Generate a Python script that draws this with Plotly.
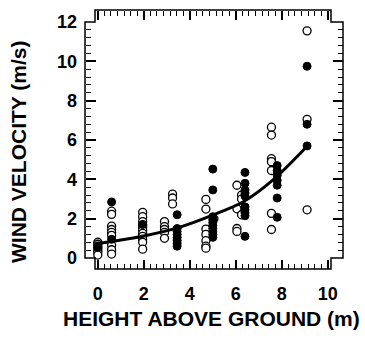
import plotly.graph_objects as go

# ---------------- data ----------------
open_x = ([0.0] * 7 +
          [0.6] * 9 +
          [1.95] * 11 +
          [2.9] * 5 + [3.25] * 3 +
          [4.7] * 7 + [5.05] +
          [6.05] * 4 + [6.25] * 3 +
          [7.55] * 7 +
          [9.1] * 3)
open_y = ([0.8, 0.7, 0.6, 0.5, 0.4, 0.3, 0.15] +
          [2.38, 2.22, 1.62, 1.45, 1.3, 1.15, 0.65, 0.42, 0.2] +
          [2.32, 2.1, 1.85, 1.68, 1.55, 1.4, 1.25, 1.1, 0.95, 0.8, 0.45] +
          [1.85, 1.6, 1.45, 1.3, 1.0] + [3.25, 3.05, 2.75] +
          [2.98, 2.49, 1.47, 1.2, 0.88, 0.6, 0.5] + [2.0] +
          [3.7, 2.5, 1.5, 1.35] + [3.2, 3.0, 2.2] +
          [6.65, 6.25, 5.05, 4.9, 4.45, 2.27, 1.45] +
          [11.55, 7.05, 2.45])

filled_x = ([0.0] +
            [0.6] * 2 +
            [1.95] +
            [3.45] * 8 +
            [5.0] * 10 +
            [6.4] * 10 +
            [7.8] * 7 +
            [9.1] * 3)
filled_y = ([0.55] +
            [2.85, 0.95] +
            [1.7] +
            [2.2, 1.5, 1.35, 1.2, 1.05, 0.9, 0.75, 0.6] +
            [4.52, 3.46, 2.1, 1.95, 1.8, 1.65, 1.5, 1.35, 1.2, 1.05] +
            [4.35, 3.8, 3.45, 3.3, 3.15, 2.6, 2.45, 2.3, 2.15, 1.1] +
            [4.7, 4.45, 4.2, 3.95, 3.7, 3.05, 2.07] +
            [9.75, 6.8, 5.7])

# fitted curve
fit_x = [-0.1, 0.7, 2.0, 3.57, 5.02, 6.33, 7.62, 9.08]
fit_y = [0.72, 0.86, 1.12, 1.57, 2.19, 2.86, 3.97, 5.66]

x_ticks = [0, 2, 4, 6, 8, 10]
y_ticks = [0, 2, 4, 6, 8, 10, 12]
x_title = "HEIGHT ABOVE GROUND (m)"
y_title = "WIND VELOCITY (m/s)"

# ---------------- layout geometry ----------------
W, H = 365, 341
def px(v):
    return v / W
def py(v):
    return 1 - v / H

X_RANGE = [-0.122, 10.14]
Y_RANGE = [0, 12]
xdom = [px(95), px(331)]      # horizontal extent of x axes
ydom = [py(258), py(22)]      # vertical extent of y axes
left_pos, right_pos = px(85), px(343)
bottom_pos, top_pos = py(269), py(10)

FONT = "Liberation Sans"
tickfont = dict(family=FONT, size=18, color="black", weight="bold")

common_x = dict(domain=xdom, range=X_RANGE, tickvals=x_ticks, ticks="inside",
                ticklen=9, tickwidth=1.5, tickcolor="black", showline=False,
                showgrid=False, zeroline=False, automargin=False,
                minor=dict(tick0=0, dtick=2 / 7, ticks="inside", ticklen=5,
                           tickwidth=1.2, tickcolor="black", showgrid=False))
common_y = dict(domain=ydom, range=Y_RANGE, tickvals=y_ticks, ticks="inside",
                ticklen=10, tickwidth=1.5, tickcolor="black", showline=False,
                showgrid=False, zeroline=False, automargin=False,
                minor=dict(tick0=0, dtick=0.4, ticks="inside", ticklen=5,
                           tickwidth=1.2, tickcolor="black", showgrid=False))

fig = go.Figure()
fig.add_trace(go.Scatter(
    x=open_x, y=open_y, mode="markers", cliponaxis=False,
    marker=dict(symbol="circle", size=8, color="white",
                line=dict(color="black", width=1.3)),
    showlegend=False))
fig.add_trace(go.Scatter(
    x=filled_x, y=filled_y, mode="markers", cliponaxis=False,
    marker=dict(symbol="circle", size=8, color="black",
                line=dict(color="black", width=1)),
    showlegend=False))
fig.add_trace(go.Scatter(
    x=fit_x, y=fit_y, mode="lines", cliponaxis=False,
    line=dict(color="black", width=3, shape="spline", smoothing=0.8),
    showlegend=False))
# empty traces so the top / right tick axes get their own subplots
fig.add_trace(go.Scatter(x=[], y=[], xaxis="x2", yaxis="y", showlegend=False))
fig.add_trace(go.Scatter(x=[], y=[], xaxis="x", yaxis="y2", showlegend=False))

fig.update_layout(
    width=W, height=H,
    margin=dict(l=0, r=0, t=0, b=0, autoexpand=False),
    paper_bgcolor="white", plot_bgcolor="rgba(0,0,0,0)",
    xaxis=dict(**common_x, anchor="free", position=bottom_pos, side="bottom",
               tickfont=tickfont, ticklabelstandoff=12),
    xaxis2=dict(**common_x, anchor="free", position=top_pos, side="top",
                overlaying="x", showticklabels=False),
    yaxis=dict(**common_y, anchor="free", position=left_pos, side="left",
               tickfont=tickfont, ticklabelstandoff=8),
    yaxis2=dict(**common_y, anchor="free", position=right_pos, side="right",
                overlaying="y", showticklabels=False),
)

# notched frame outline joining the offset axes
pts = [(left_pos, ydom[1]), (xdom[0], ydom[1]), (xdom[0], top_pos),
       (xdom[1], top_pos), (xdom[1], ydom[1]), (right_pos, ydom[1]),
       (right_pos, ydom[0]), (xdom[1], ydom[0]), (xdom[1], bottom_pos),
       (xdom[0], bottom_pos), (xdom[0], ydom[0]), (left_pos, ydom[0])]
path = "M " + " L ".join(f"{a},{b}" for a, b in pts) + " Z"
fig.add_shape(type="path", path=path, xref="paper", yref="paper",
              line=dict(color="black", width=1.5), layer="above")

fig.add_annotation(text=y_title, x=px(18), y=py(152), xref="paper",
                   yref="paper", textangle=-90, showarrow=False,
                   xanchor="center", yanchor="middle",
                   font=dict(family=FONT, size=21, color="black",
                             weight="bold"))
fig.add_annotation(text=x_title, x=px(212), y=py(318), xref="paper",
                   yref="paper", showarrow=False,
                   xanchor="center", yanchor="middle",
                   font=dict(family=FONT, size=21, color="black",
                             weight="bold"))

fig.write_html("out.html")
